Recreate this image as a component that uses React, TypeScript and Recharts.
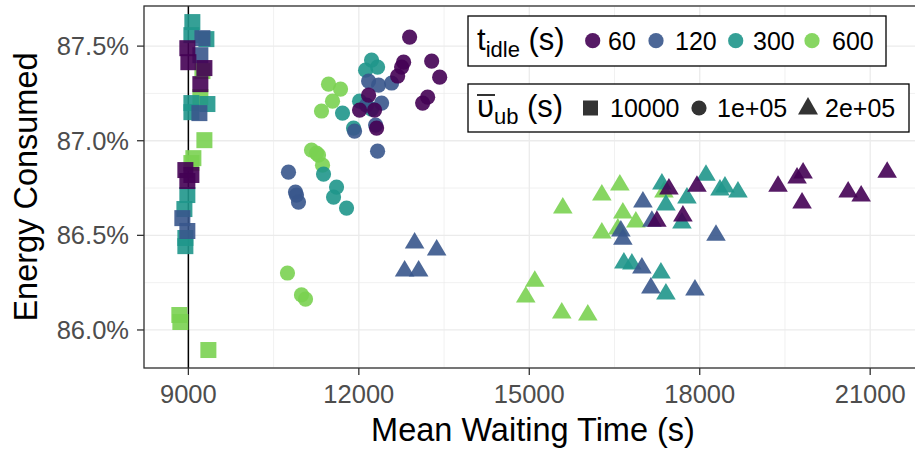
import React from 'react';
import { ScatterChart, Scatter, XAxis, YAxis, CartesianGrid, ReferenceLine } from 'recharts';

const xTicks = [9000, 12000, 15000, 18000, 21000];
const yTicks = [86.0, 86.5, 87.0, 87.5];
const xMinor = [10500, 13500, 16500, 19500];
const yMinor = [86.25, 86.75, 87.25];

const idleLevels = ['60', '120', '300', '600'];
const ubLevels = ['10000', '1e+05', '2e+05'];

const colors: Record<string, string> = {
  '60': '#440154',
  '120': '#39568C',
  '300': '#1F968B',
  '600': '#7AD151',
};

// [mean waiting time (s), energy consumed (%)]
const sq60 = [[8982, 87.489], [9000, 87.415], [9282, 87.384], [9211, 87.299], [8947, 86.845], [9053, 86.819], [8982, 86.787]];
const sq120 = [[9247, 87.542], [9211, 87.452], [9194, 87.146], [8894, 86.591], [8982, 86.523]];
const sq300 = [[9070, 87.627], [9053, 87.558], [9317, 87.537], [9053, 87.199], [9053, 87.151], [9335, 87.194], [8982, 86.713], [8930, 86.639], [8947, 86.443], [8947, 86.486]];
const sq600 = [[9247, 87.368], [9211, 87.231], [9282, 87.003], [9088, 86.908], [9053, 86.882], [8841, 86.079], [8859, 86.042], [9352, 85.894]];

const ci60 = [[12894, 87.548], [12788, 87.415], [12753, 87.389], [12683, 87.342], [13282, 87.421], [13423, 87.336], [13211, 87.23], [13123, 87.199], [12172, 87.241], [12013, 87.162], [12277, 87.162], [12313, 87.067]];
const ci120 = [[12172, 87.315], [12348, 87.294], [12577, 87.305], [12401, 87.199], [12136, 87.188], [12295, 87.083], [11925, 87.051], [12330, 86.945], [10762, 86.834], [10885, 86.729], [10903, 86.713], [10938, 86.676]];
const ci300 = [[12224, 87.426], [12330, 87.389], [12119, 87.373], [12013, 87.209], [12224, 87.167], [11713, 87.146], [11907, 87.067], [11379, 86.824], [11608, 86.755], [11555, 86.702], [11784, 86.644]];
const ci600 = [[11467, 87.299], [11678, 87.273], [11537, 87.209], [11343, 87.157], [11167, 86.951], [11255, 86.935], [11291, 86.924], [11361, 86.871], [10744, 86.301], [10991, 86.185], [11062, 86.163]];

const tr60 = [[17458, 86.745], [17951, 86.76], [17704, 86.602], [17246, 86.575], [19378, 86.76], [19713, 86.803], [19819, 86.829], [19801, 86.671], [20612, 86.729], [20841, 86.708], [21299, 86.834]];
const tr120 = [[12982, 86.459], [13370, 86.422], [12806, 86.311], [13053, 86.311], [17000, 86.676], [17158, 86.575], [16647, 86.48], [16612, 86.523], [16982, 86.327], [17140, 86.222], [17916, 86.211], [18286, 86.501]];
const tr300 = [[17334, 86.771], [17405, 86.66], [17775, 86.697], [17687, 86.565], [18110, 86.818], [18444, 86.755], [18356, 86.739], [18673, 86.729], [16665, 86.354], [16806, 86.348], [17317, 86.301], [17405, 86.19]];
const tr600 = [[16594, 86.766], [16277, 86.713], [15590, 86.644], [16647, 86.618], [16876, 86.57], [16277, 86.512], [16559, 86.533], [17370, 86.729], [15097, 86.258], [14938, 86.174], [15572, 86.089], [16030, 86.079]];

const toPoints = (arr: number[][]) => arr.map(([x, y]) => ({ x, y }));

const drawSquare = (color: string) => (p: any) => (
  <rect x={p.cx - 8} y={p.cy - 8} width={16} height={16} fill={color} fillOpacity={0.9} />
);
const drawCircle = (color: string) => (p: any) => (
  <circle cx={p.cx} cy={p.cy} r={7.6} fill={color} fillOpacity={0.9} />
);
const drawTriangle = (color: string) => (p: any) => (
  <polygon
    points={`${p.cx},${p.cy - 11} ${p.cx - 9.8},${p.cy + 5.5} ${p.cx + 9.8},${p.cy + 5.5}`}
    fill={color}
    fillOpacity={0.9}
  />
);

const series = [
  { name: 'sq600', data: sq600, idle: '600', draw: drawSquare },
  { name: 'sq300', data: sq300, idle: '300', draw: drawSquare },
  { name: 'sq120', data: sq120, idle: '120', draw: drawSquare },
  { name: 'sq60', data: sq60, idle: '60', draw: drawSquare },
  { name: 'ci600', data: ci600, idle: '600', draw: drawCircle },
  { name: 'ci300', data: ci300, idle: '300', draw: drawCircle },
  { name: 'ci120', data: ci120, idle: '120', draw: drawCircle },
  { name: 'ci60', data: ci60, idle: '60', draw: drawCircle },
  { name: 'tr600', data: tr600, idle: '600', draw: drawTriangle },
  { name: 'tr300', data: tr300, idle: '300', draw: drawTriangle },
  { name: 'tr120', data: tr120, idle: '120', draw: drawTriangle },
  { name: 'tr60', data: tr60, idle: '60', draw: drawTriangle },
];

const tickStyle = { fill: '#4D4D4D', fontSize: 25.5 };

const App: React.FC = () => {
  const idleKeyX = [592.7, 656, 735.7, 812];
  const idleLabelX = [608, 675, 753, 832];

  return (
    <div
      style={{
        position: 'absolute',
        left: 0,
        top: 0,
        width: 915,
        height: 452,
        overflow: 'hidden',
        background: '#fff',
        fontFamily: '"Liberation Sans", Arial, Helvetica, sans-serif',
      }}
    >
      <ScatterChart width={923} height={452} margin={{ top: 6, right: 1, bottom: 0, left: 0 }}>
        <CartesianGrid stroke="#EBEBEB" strokeWidth={0.7} verticalValues={xMinor} horizontalValues={yMinor} />
        <CartesianGrid stroke="#EBEBEB" strokeWidth={1.3} />
        <XAxis
          type="number"
          dataKey="x"
          domain={[8219, 21912]}
          ticks={xTicks}
          allowDataOverflow
          height={84}
          tick={tickStyle}
          tickSize={7}
          tickMargin={10}
          tickLine={{ stroke: '#333333', strokeWidth: 1.3 }}
          axisLine={false}
        />
        <YAxis
          type="number"
          dataKey="y"
          domain={[85.799, 87.712]}
          ticks={yTicks}
          allowDataOverflow
          width={144}
          tick={tickStyle}
          tickSize={7}
          tickMargin={8}
          tickFormatter={(v: number) => `${v.toFixed(1)}%`}
          tickLine={{ stroke: '#333333', strokeWidth: 1.3 }}
          axisLine={false}
        />
        {series.map((s) => (
          <Scatter
            key={s.name}
            name={s.name}
            data={toPoints(s.data)}
            fill={colors[s.idle]}
            shape={s.draw(colors[s.idle])}
            isAnimationActive={false}
          />
        ))}
        <ReferenceLine x={9000} stroke="#000" strokeWidth={1.5} />
      </ScatterChart>

      <svg
        width={915}
        height={452}
        style={{ position: 'absolute', left: 0, top: 0, pointerEvents: 'none' }}
      >
        {/* panel border */}
        <rect x={144} y={6} width={778} height={362} fill="none" stroke="#333333" strokeWidth={1.3} />

        {/* axis titles */}
        <text x={533} y={441} textAnchor="middle" fontSize={32.5} fill="#000">
          Mean Waiting Time (s)
        </text>
        <text transform="translate(37,187) rotate(-90)" textAnchor="middle" fontSize={32.5} fill="#000">
          Energy Consumed
        </text>

        {/* colour legend */}
        <rect x={468} y={16} width={418} height={50} fill="#fff" stroke="#000" strokeWidth={1.3} />
        <text x={477} y={50} fontSize={31} fill="#000">
          t<tspan fontSize={22} dy={7}>idle</tspan>
          <tspan dy={-7}> (s)</tspan>
        </text>
        {idleLevels.map((lv, i) => (
          <g key={lv}>
            <circle cx={idleKeyX[i]} cy={40.7} r={7.6} fill={colors[lv]} fillOpacity={0.9} />
            <text x={idleLabelX[i]} y={49.5} fontSize={25} fill="#000">
              {lv}
            </text>
          </g>
        ))}

        {/* shape legend */}
        <rect x={468} y={84} width={441} height={48} fill="#fff" stroke="#000" strokeWidth={1.3} />
        <line x1={477} x2={495} y1={95} y2={95} stroke="#000" strokeWidth={1.6} />
        <text x={477} y={117} fontSize={31} fill="#000">
          υ<tspan fontSize={22} dy={7}>ub</tspan>
          <tspan dy={-7}> (s)</tspan>
        </text>
        <rect x={583} y={100.5} width={15} height={15} fill="#333333" />
        <text x={610} y={117} fontSize={25} fill="#000">{ubLevels[0]}</text>
        <circle cx={699} cy={108} r={7.6} fill="#333333" />
        <text x={717} y={117} fontSize={25} fill="#000">{ubLevels[1]}</text>
        <polygon points="808,97 798,114.5 818,114.5" fill="#333333" />
        <text x={825} y={117} fontSize={25} fill="#000">{ubLevels[2]}</text>
      </svg>
    </div>
  );
};

export default App;
